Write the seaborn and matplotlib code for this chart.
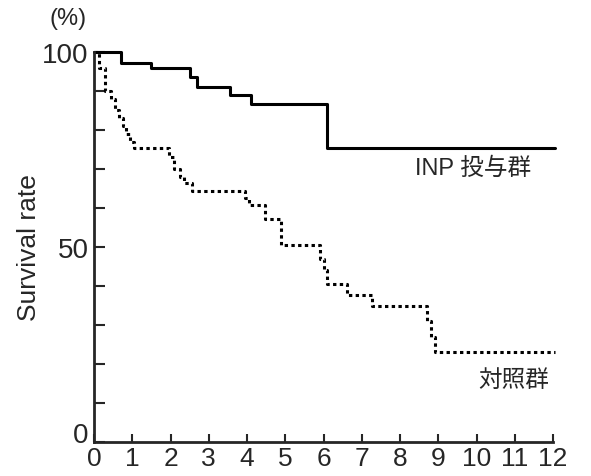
import matplotlib
matplotlib.use("Agg")
import matplotlib.pyplot as plt
import matplotlib.transforms as mtransforms
import seaborn as sns
import pandas as pd

sns.set_style("ticks")
plt.rcParams['font.family'] = ['Liberation Sans', 'Noto Sans CJK JP', 'DejaVu Sans']

# Data:
inp_time = [0, 0.70, 1.49, 2.51, 2.68, 3.56, 4.10, 6.10, 12.05]
inp_surv = [100, 97.2, 96.0, 93.7, 91.1, 88.9, 86.6, 75.3, 75.3]

ctrl_time = [0, 0.13, 0.3, 0.45, 0.55, 0.65, 0.75, 0.85, 0.95, 1.05, 1.95, 2.1, 2.25,
             2.35, 2.55, 3.95, 4.05, 4.47, 4.9, 5.9, 6.0, 6.1, 6.6, 7.26, 8.7, 8.8, 8.9, 12.05]
ctrl_surv = [100, 96, 90, 88, 85, 83, 81, 79, 77, 75.5, 73, 70, 68,
             66.3, 64.3, 62.5, 60.8, 57.3, 50.6, 47, 44, 40.6, 37.6, 34.9, 31, 27, 23.1, 23.1]

x_ticks = list(range(0, 13))
y_major = [0, 50, 100]
y_minor = list(range(0, 101, 10))

inp = pd.DataFrame({"time": inp_time, "surv": inp_surv})
ctrl = pd.DataFrame({"time": ctrl_time, "surv": ctrl_surv})

fig = plt.figure(figsize=(5.91, 4.77), dpi=100)
ax = fig.add_axes([0.159, 0.071, 0.777, 0.818])

sns.lineplot(data=inp, x="time", y="surv", ax=ax, estimator=None, sort=False,
             drawstyle="steps-post", color="black", lw=2.2, clip_on=False)
sns.lineplot(data=ctrl, x="time", y="surv", ax=ax, estimator=None, sort=False,
             drawstyle="steps-post", color="black", lw=2.2, clip_on=False,
             linestyle=(0, (1.1, 1.1)))

ax.set_xlim(0, 12)
ax.set_ylim(0, 100)
ax.set_xticks(x_ticks)
ax.set_yticks(y_major)
ax.set_yticks(y_minor, minor=True)
ax.tick_params(axis="x", direction="in", length=6, width=1.5, labelsize=19, pad=3)
ax.tick_params(axis="y", which="both", direction="in", length=8, width=1.5, labelsize=20, pad=4)
ax.set_xlabel("")
ax.set_ylabel("Survival rate", fontsize=19)
ax.yaxis.set_label_coords(-0.115, 0.5)
sns.despine(ax=ax)
for s in ["left", "bottom"]:
    ax.spines[s].set_linewidth(2)

# the y "0" sits a little above the axis line
lbl0 = ax.get_yticklabels()[0]
lbl0.set_transform(lbl0.get_transform() + mtransforms.ScaledTranslation(0, 10 / 100, fig.dpi_scale_trans))

ax.text(-0.68, 108.7, "(%)", fontsize=17, ha="center", va="center", clip_on=False)
ax.text(8.39, 70.2, "INP 投与群", fontsize=17, ha="left", va="center")
ax.text(10.04, 15.9, "対照群", fontsize=17, ha="left", va="center")

fig.savefig("out.png", dpi=100)
